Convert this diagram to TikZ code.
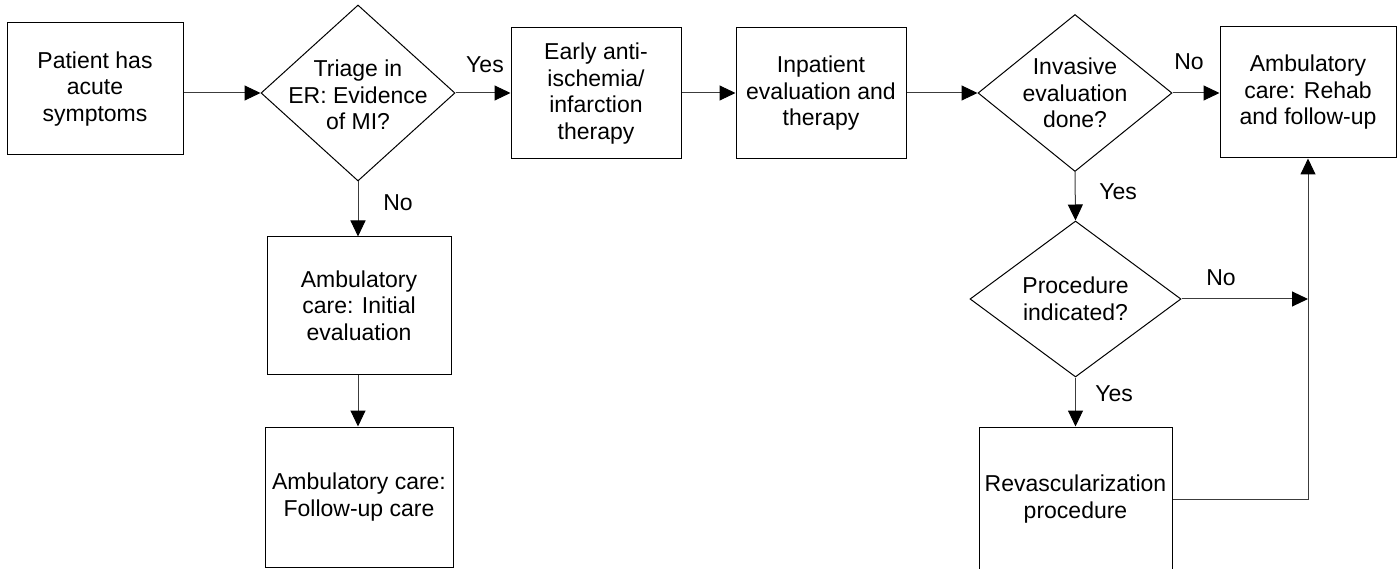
\documentclass[tikz,border=0pt]{standalone}
\usepackage{fontspec}
\setmainfont{Liberation Sans}
\usetikzlibrary{shapes.geometric,arrows.meta}
\definecolor{lncol}{RGB}{60,60,60}
\begin{document}
\begin{tikzpicture}[x=1pt,y=-1pt,
  every node/.style={font=\fontsize{23}{26.5}\selectfont, inner sep=0pt},
  stepbox/.style={draw=black, line width=1pt, rectangle, align=center},
  decision/.style={draw=black, line width=1pt, diamond},
  txt/.style={align=center},
  lbl/.style={},
  conn/.style={draw=lncol, line width=1pt, -{Triangle[length=16pt,width=15pt,color=black]}}]
\clip (0,0) rectangle (1400,569);
\useasboundingbox (0,0) rectangle (1400,569);
% boxes
\node[stepbox, minimum width=176pt, minimum height=132pt] (b1) at (95,89) {Patient has\\acute\\symptoms};
\node[stepbox, minimum width=170pt, minimum height=131pt] (b2) at (596,93.5) {Early anti-\\ischemia/\\infarction\\therapy};
\node[stepbox, minimum width=170pt, minimum height=131pt] (b3) at (821,93.5) {Inpatient\\evaluation and\\therapy};
\node[stepbox, minimum width=176pt, minimum height=131pt] (b4) at (1308,92.5) {Ambulatory\\care: Rehab\\and follow-up};
\node[stepbox, minimum width=184pt, minimum height=137pt] (b5) at (359,305.5) {Ambulatory\\care: Initial\\evaluation};
\node[stepbox, minimum width=188pt, minimum height=140pt] (b6) at (359,497) {Ambulatory care:\\Follow-up care};
\node[stepbox, minimum width=193pt, minimum height=144pt] (b7) at (1075.5,499) {Revascularization\\procedure};
% decisions
\node[decision, minimum width=194pt, minimum height=176pt] (d1) at (358,93) {};
\node[txt] at ([yshift=-2pt]d1.center) {Triage in\\ER: Evidence\\of MI?};
\node[decision, minimum width=194pt, minimum height=157pt] (d3) at (1075,93) {};
\node[txt] at (d3) {Invasive\\evaluation\\done?};
\node[decision, minimum width=211pt, minimum height=156pt] (d4) at (1075.5,299) {};
\node[txt] at (d4) {Procedure\\indicated?};
\coordinate (j) at (b4.south |- d4.east);
% connectors
\draw[conn] (b1.east |- d1.west) -- (d1.west);
\draw[conn] (d1.east) -- (b2.west |- d1.east);
\draw[conn] (b2.east |- d1.east) -- (b3.west |- d1.east);
\draw[conn] (b3.east |- d1.east) -- (d3.west);
\draw[conn] (d3.east) -- (b4.west |- d3.east);
\draw[conn] (d1.south) -- (d1.south |- b5.north);
\draw[conn] (d1.south |- b5.south) -- (d1.south |- b6.north);
\draw[conn] (d3.south) -- (d4.north);
\draw[conn] (d4.east) -- (j);
\draw[conn] (d4.south) -- (d4.south |- b7.north);
\draw[conn] (b7.east) -| (b4.south);
% labels
\node[lbl] (l1) at (485,65) {Yes};
\node[lbl] (l2) at (398,203) {No};
\node[lbl] (l3) at (1189,62) {No};
\node[lbl] (l4) at (1118,192) {Yes};
\node[lbl] (l5) at (1221,278) {No};
\node[lbl] (l6) at (1114,394) {Yes};
\end{tikzpicture}
\end{document}
